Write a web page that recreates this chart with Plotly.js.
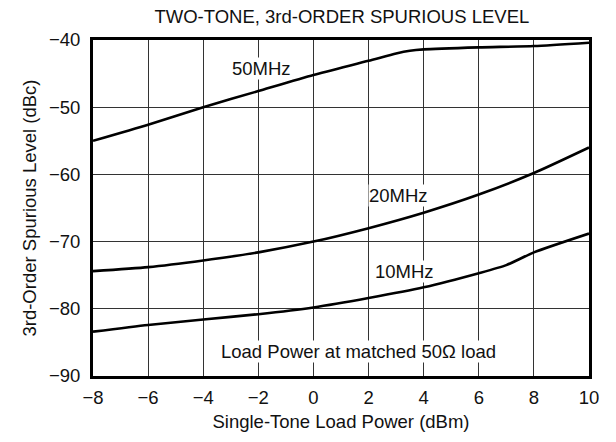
<!DOCTYPE html>
<html><head><meta charset="utf-8">
<script src="https://cdn.plot.ly/plotly-3.0.1.min.js"></script>
<style>body{margin:0;background:#fff}#c{width:616px;height:442px}</style>
</head><body><div id="c"></div>
<script>
const xPower = [-8, -6, -4, -2, 0, 2, 3, 3.5, 4, 6, 8, 10];
const y50MHz = [-55.0, -52.6, -50.0, -47.6, -45.2, -43.1, -42.0, -41.6, -41.4, -41.1, -40.9, -40.4];
const x20 = [-8, -6, -4, -2, 0, 2, 4, 6, 8, 10];
const y20MHz = [-74.4, -73.8, -72.8, -71.6, -70.0, -68.0, -65.7, -63.0, -59.8, -56.0];
const x10 = [-8, -6, -4, -2, 0, 2, 4, 6, 7, 8, 10];
const y10MHz = [-83.4, -82.4, -81.6, -80.8, -79.8, -78.4, -76.8, -74.7, -73.5, -71.6, -68.8];
const labels = ["50MHz", "20MHz", "10MHz", "Load Power at matched 50\u03A9 load"];
const labelX = [-1.9, 3.1, 3.3, 1.63];
const labelY = [-44.2, -63.2, -74.45, -86.4];

const line = {color: '#000', width: 2.6, shape: 'spline', smoothing: 0.6};
const traces = [
  {x: xPower, y: y50MHz, mode: 'lines', line: line, name: '50MHz'},
  {x: x20, y: y20MHz, mode: 'lines', line: line, name: '20MHz'},
  {x: x10, y: y10MHz, mode: 'lines', line: line, name: '10MHz'}
];
const font = {family: 'Liberation Sans, Arial, sans-serif', color: '#111'};
const fs = 18.5;
const layout = {
  width: 616, height: 442,
  margin: {l: 93, r: 27, t: 40, b: 66},
  showlegend: false,
  paper_bgcolor: '#fff', plot_bgcolor: '#fff',
  font: Object.assign({size: fs}, font),
  title: {text: 'TWO-TONE, 3rd-ORDER SPURIOUS LEVEL', x: 0.555, xanchor: 'center', y: 0.962, yanchor: 'middle', font: Object.assign({size: fs}, font)},
  xaxis: {
    range: [-8, 10], dtick: 2, tick0: -8, showgrid: true, gridcolor: '#333', gridwidth: 1,
    zeroline: false, showline: true, linecolor: '#000', linewidth: 3, mirror: true,
    ticks: '', ticklabelstandoff: 3,
    tickfont: Object.assign({size: fs}, font),
    title: {text: 'Single-Tone Load Power (dBm)', standoff: 8, font: Object.assign({size: fs}, font)}
  },
  yaxis: {
    range: [-90, -40], dtick: 10, showgrid: true, gridcolor: '#333', gridwidth: 1,
    zeroline: false, showline: true, linecolor: '#000', linewidth: 3, mirror: true,
    ticks: '', ticklabelstandoff: 6,
    tickfont: Object.assign({size: fs}, font),
    title: {text: '3rd-Order Spurious Level (dBc)', standoff: 8, font: Object.assign({size: fs}, font)}
  },
  annotations: labels.map((t, i) => ({
    x: labelX[i], y: labelY[i], xref: 'x', yref: 'y', text: t, showarrow: false,
    bgcolor: '#fff', borderpad: 0, font: Object.assign({size: fs}, font)
  }))
};
Plotly.newPlot('c', traces, layout, {displayModeBar: false, staticPlot: true});
</script></body></html>
